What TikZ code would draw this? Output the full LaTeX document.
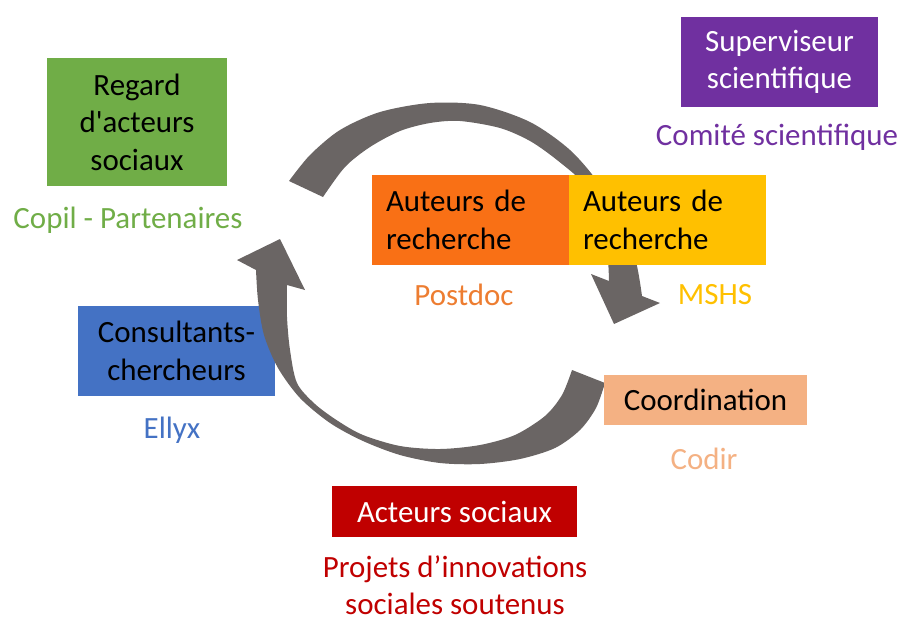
\documentclass[tikz,border=0pt]{standalone}
\usepackage{fontspec}
\setmainfont{Carlito}[Ligatures=TeXOff]

\definecolor{grisfleche}{RGB}{106,101,100}
\definecolor{vertcopil}{RGB}{112,173,71}
\definecolor{violetcs}{RGB}{112,48,160}
\definecolor{orangepd}{RGB}{249,112,21}
\definecolor{orangetxt}{RGB}{237,125,49}
\definecolor{jaunemshs}{RGB}{255,192,0}
\definecolor{bleuellyx}{RGB}{68,114,196}
\definecolor{peachcodir}{RGB}{244,177,131}
\definecolor{rougeas}{RGB}{192,0,0}

\tikzset{
    texte/.style={inner sep=0pt, align=center, font=\fontsize{17.6}{21.4}\selectfont},
    boite/.style={texte, minimum width=3.94cm, minimum height=1.8cm},
    boitegauche/.style={texte, align=left, text width=3.38cm, inner xsep=0.28cm, minimum height=1.8cm}
}

\begin{document}
\begin{tikzpicture}[x=0.02cm, y=-0.02cm]
        \useasboundingbox (0,0) rectangle (901,619);

        % Box behind the lower arrow
        \node[boite, fill=bleuellyx] (consult) at (176.5,351) {Consultants-\\chercheurs};

        % Draw the upper circular arrow
        \fill[grisfleche] plot[smooth] coordinates {(289,181) (310,155) (340,130) (380,112) (430,103) (480,105) (530,122) (570,150) (600,185) (622,225) (636,262) (642,296)}
            -- (660,303) -- (614,324) -- (591,274)
            -- plot[smooth] coordinates {(609,281) (607,250) (598,215) (585,185) (557,160) (530,141) (500,128) (460,121) (430,123) (400,131) (370,147) (345,167) (323,197)}
            -- cycle;

        % Draw the lower circular arrow
        \fill[grisfleche] plot[smooth] coordinates {(605,383) (596,408) (580,430) (555,448) (520,459) (480,464) (440,463) (400,455) (363,441) (330,423) (300,398) (278,368) (264,335) (258,300) (256,270)}
            -- (237,260) -- (280,239) -- (305,290)
            -- plot[smooth] coordinates {(287,285) (287,317) (290,350) (297,383) (315,404) (338,421) (363,435) (400,446) (440,449) (480,445) (515,435) (545,416) (562,395) (572,370)}
            -- cycle;

        % Boxes
        \node[boite, fill=vertcopil, minimum width=3.6cm, minimum height=2.56cm] (regard) at (137,122) {Regard\\d'acteurs\\sociaux};
        \node[boite, fill=violetcs, text=white] (superv) at (779.5,62) {Superviseur\\scientifique};
        \node[boitegauche, fill=orangepd] (postdoc) at (470.5,220) {Auteurs de\\recherche};
        \node[boitegauche, fill=jaunemshs] (mshs) at (667.5,220) {Auteurs de\\recherche};
        \node[boite, fill=peachcodir, minimum width=4.06cm, minimum height=1cm] (coord) at (705.5,400) {Coordination};
        \node[boite, fill=rougeas, text=white, minimum width=4.9cm, minimum height=1.02cm] (acteurs) at (454.5,511.5) {Acteurs sociaux};

        % Captions
        \node[texte, text=vertcopil] (copil) at (128,220) {Copil - Partenaires};
        \node[texte, text=violetcs] (comite) at (777,137) {Comité scientifique};
        \node[texte, text=orangetxt] (postdoclbl) at (464,295) {Postdoc};
        \node[texte, text=jaunemshs] (mshslbl) at (715,295) {MSHS};
        \node[texte, text=bleuellyx] (ellyx) at (172,430) {Ellyx};
        \node[texte, text=peachcodir] (codir) at (704,459) {Codir};
        \node[texte, text=rougeas] (projets) at (455,585) {Projets d’innovations\\sociales soutenus};
    \end{tikzpicture}
\end{document}
